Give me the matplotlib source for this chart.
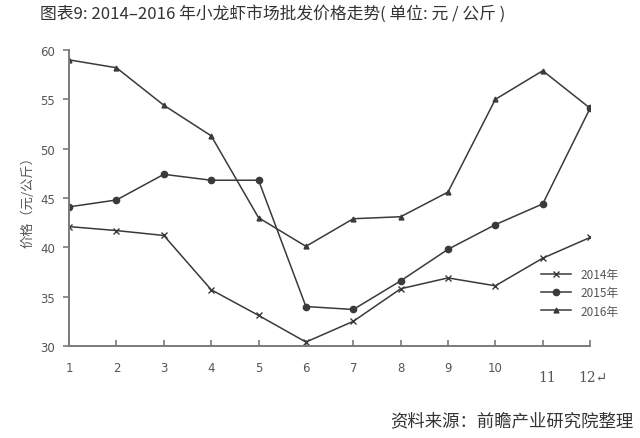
import matplotlib
matplotlib.use('Agg')
import matplotlib.pyplot as plt

plt.rcParams['font.family'] = ['Noto Sans CJK SC', 'DejaVu Sans']

# Datos (元/公斤)
meses = [1, 2, 3, 4, 5, 6, 7, 8, 9, 10, 11, 12]
precio_2014 = [42.1, 41.7, 41.2, 35.7, 33.1, 30.4, 32.5, 35.8, 36.9, 36.1, 38.9, 41.0]
precio_2015 = [44.1, 44.8, 47.4, 46.8, 46.8, 34.0, 33.7, 36.6, 39.8, 42.3, 44.4, 54.1]
precio_2016 = [59.0, 58.2, 54.4, 51.3, 43.0, 40.1, 42.9, 43.1, 45.6, 55.0, 57.9, 54.1]
etiquetas_y = [30, 35, 40, 45, 50, 55, 60]
etiquetas_x = ['1', '2', '3', '4', '5', '6', '7', '8', '9', '10', '', '']

color_linea = '#3a3a3a'
color_eje = '#7a7a7a'
color_texto = '#555555'

fig = plt.figure(figsize=(6.4, 4.39), dpi=100)
ax = fig.add_axes([0.108, 0.2096, 0.814, 0.6742])

ax.plot(meses, precio_2014, color=color_linea, lw=1.1, marker='x', ms=4, mew=1.0, label='2014年')
ax.plot(meses, precio_2015, color=color_linea, lw=1.1, marker='o', ms=4.5, label='2015年')
ax.plot(meses, precio_2016, color=color_linea, lw=1.1, marker='^', ms=3.5, label='2016年')

ax.set_xlim(1, 12)
ax.set_ylim(30, 60)
ax.set_yticks(etiquetas_y)
ax.set_xticks(meses)
ax.set_xticklabels(etiquetas_x)

ax.spines[['top', 'right']].set_visible(False)
for lado in ['left', 'bottom']:
    ax.spines[lado].set_color(color_eje)
    ax.spines[lado].set_linewidth(1.4)
ax.tick_params(axis='y', direction='out', length=4, width=1.2, color=color_eje,
               labelsize=8.5, labelcolor=color_texto, pad=6)
ax.tick_params(axis='x', direction='in', length=4, width=1.2, color=color_eje,
               labelsize=8.5, labelcolor=color_texto, pad=11)
for lbl in ax.get_yticklabels() + ax.get_xticklabels():
    lbl.set_family('DejaVu Sans')

# Etiquetas 11 y 12 desplazadas como en el original
ax.text(11.1, -0.105, '11', transform=ax.get_xaxis_transform(), ha='center', va='center',
        fontsize=10, family='DejaVu Serif', color=color_texto)
ax.text(12.05, -0.105, '12\u21b5', transform=ax.get_xaxis_transform(), ha='center', va='center',
        fontsize=10, family='DejaVu Serif', color=color_texto)

ax.set_ylabel('价格（元/公斤）', fontsize=9.5, color=color_texto, labelpad=4)

ax.legend(loc='lower right', bbox_to_anchor=(1.075, 0.06), frameon=False, fontsize=8.5,
          handlelength=2.5, labelspacing=0.45, labelcolor=color_texto)

fig.text(0.063, 0.968, '图表9: 2014\u20132016 年小龙虾市场批发价格走势( 单位: 元 / 公斤 )',
         fontsize=12.1, color='#333333', ha='left', va='center')
fig.text(0.99, 0.041, '资料来源：前瞻产业研究院整理', fontsize=12.5, color='#333333',
         ha='right', va='center')

fig.savefig('out.png', dpi=100)
